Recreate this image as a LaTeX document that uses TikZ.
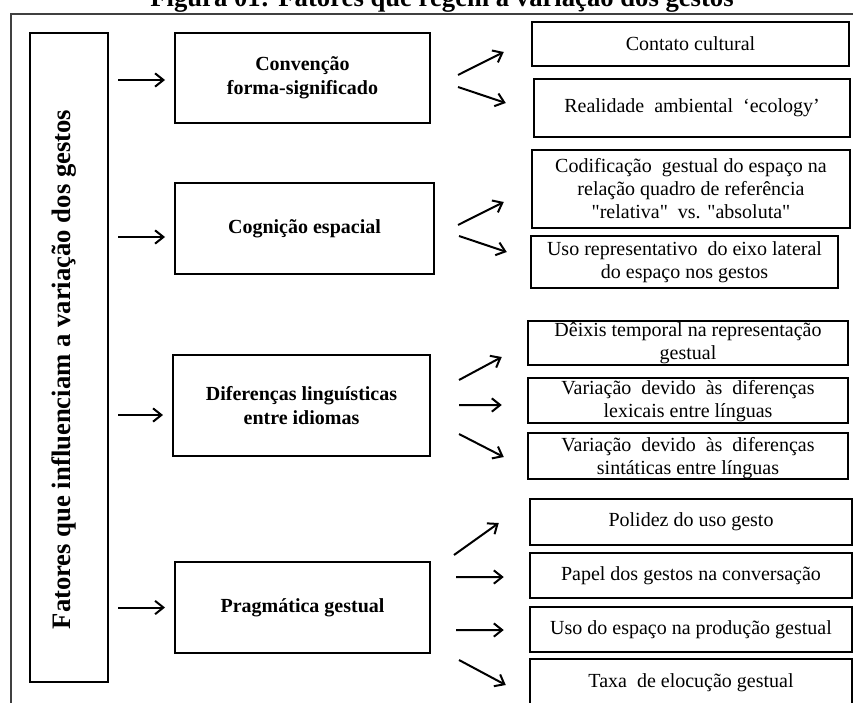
\documentclass[tikz,border=0pt]{standalone}
\usepackage{fontspec}
\setmainfont{Liberation Serif}
\newfontfamily\straightquotes{Liberation Serif}
\usetikzlibrary{arrows.meta, positioning, calc}

\begin{document}
\begin{tikzpicture}[
	x=0.6pt, y=-0.6pt,
	>={Straight Barb[length=5pt, width=8pt]},
	factor/.style={rectangle, draw, line width=1.2pt, minimum width=153pt, align=center, font=\fontsize{12}{14.4}\selectfont\bfseries},
	effect/.style={rectangle, draw, line width=1.5pt, align=center, font=\fontsize{12}{13.8}\selectfont},
	feed/.style={->, line width=1.2pt, shorten <=5.4pt, shorten >=5.4pt},
	branch/.style={->, line width=1.2pt}
	]

\useasboundingbox (0,0) rectangle (853,702);
\clip (0,0) rectangle (853,702);

% Frame and title
\draw[black!75, line width=1.6pt] (11,14) rectangle (900,760);
\node [font=\fontsize{16}{18}\selectfont\bfseries, anchor=base] (title) at (442,7) {Figura 01: Fatores que regem a variação dos gestos};

% Main block
\node [rectangle, draw, line width=1.2pt, minimum width=46.8pt, minimum height=389.4pt] (factors) at (69,357.5) {};
\node [rotate=90, font=\fontsize{16}{18}\selectfont\bfseries] (factorstext) at ($(factors.center)+(-5,12)$) {Fatores que influenciam a variação dos gestos};

% Factors
\node [factor, minimum height=54pt] (conv) at (302.5,78) {Convenção\\forma-significado};
\node [factor, minimum width=155.4pt, minimum height=54.6pt] (cog) at (304.5,228.5) {Cognição espacial};
\node [factor, minimum width=154.2pt, minimum height=60.6pt] (dif) at (301.5,405.5) {Diferenças linguísticas\\entre idiomas};
\node [factor, minimum height=54.6pt] (prag) at (302.5,607.5) {Pragmática gestual};

\coordinate (conv in) at ([yshift=-1.2pt]conv.west);
\coordinate (cog in) at ([yshift=-5.1pt]cog.west);
\coordinate (dif in) at ([yshift=-5.7pt]dif.west);
\coordinate (prag in) at (prag.west);
\draw[feed] (factors.east |- conv in) -- (conv in);
\draw[feed] (factors.east |- cog in) -- (cog in);
\draw[feed] (factors.east |- dif in) -- (dif in);
\draw[feed] (factors.east |- prag in) -- (prag in);

% Effects of convention
\node [effect, minimum width=190.2pt, minimum height=26.4pt] (contato) at (690.5,44) {Contato cultural};
\node [effect, minimum width=189.6pt, minimum height=34.8pt] (ecology) at (692,108) {Realidade \ ambiental \ ‘ecology’};

% Effects of spatial cognition
\node [effect, minimum width=190.8pt, minimum height=46.8pt, font=\fontsize{12}{13.8}\straightquotes] (codif) at (691,189) {Codificação \ gestual do espaço na\\relação quadro de referência\\"relativa" \ vs. "absoluta"};
\node [effect, minimum width=184.2pt, minimum height=30pt] (eixo) at (684.5,262) {Uso representativo \ do eixo lateral\\do espaço nos gestos};

% Effects of linguistic differences
\node [effect, minimum width=192pt, inner ysep=0pt, text height=23.1pt, text depth=3.3pt] (deixis) at (688,343) {Dêixis temporal na representação\\gestual};
\node [effect, minimum width=192pt, inner ysep=0pt, text height=23.7pt, text depth=3.3pt] (lexicais) at (688,400.5) {Variação \ devido \ às \ diferenças\\lexicais entre línguas};
\node [effect, minimum width=192pt, inner ysep=0pt, text height=24.6pt, text depth=3pt] (sintat) at (688,456) {Variação \ devido \ às \ diferenças\\sintáticas entre línguas};

% Effects of pragmatics
\node [effect, minimum width=193.2pt, minimum height=27.6pt] (polidez) at (691,522) {Polidez do uso gesto};
\node [effect, minimum width=193.2pt, minimum height=27pt] (papel) at (691,575.5) {Papel dos gestos na conversação};
\node [effect, minimum width=193.2pt, minimum height=27pt] (espaco) at (691,629.5) {Uso do espaço na produção gestual};
\node [effect, minimum width=193.2pt, minimum height=28.8pt] (taxa) at (691,683) {Taxa \ de elocução gestual};

% Branches
\draw[branch] ([xshift=16.2pt, yshift=1.8pt]conv.east) -- ([xshift=-16.2pt, yshift=-4.8pt]contato.west);
\draw[branch] ([xshift=16.2pt, yshift=-5.4pt]conv.east) -- ([xshift=-16.2pt, yshift=3pt]ecology.west);
\draw[branch] ([xshift=13.8pt, yshift=2.1pt]cog.east) -- ([xshift=-16.2pt, yshift=-7.8pt]codif.west);
\draw[branch] ([xshift=14.4pt, yshift=-4.5pt]cog.east) -- ([xshift=-13.8pt, yshift=6pt]eixo.west);
\draw[branch] ([xshift=16.8pt, yshift=15.3pt]dif.east) -- ([xshift=-15pt, yshift=-8.4pt]deixis.west);
\draw[branch] ([xshift=16.8pt, yshift=0.3pt]dif.east) -- ([xshift=-15pt, yshift=-2.7pt]lexicais.west);
\draw[branch] ([xshift=16.8pt, yshift=-17.1pt]dif.east) -- ([xshift=-13.8pt, yshift=-0.6pt]sintat.west);
\draw[branch] ([xshift=13.8pt, yshift=31.5pt]prag.east) -- ([xshift=-18pt, yshift=-0.6pt]polidez.west);
\draw[branch] ([xshift=15pt, yshift=18.3pt]prag.east) -- ([xshift=-15pt, yshift=-0.9pt]papel.west);
\draw[branch] ([xshift=15pt, yshift=-13.5pt]prag.east) -- ([xshift=-15pt, yshift=-0.3pt]espaco.west);
\draw[branch] ([xshift=16.8pt, yshift=-31.5pt]prag.east) -- ([xshift=-13.8pt, yshift=-1.2pt]taxa.west);

\end{tikzpicture}
\end{document}
